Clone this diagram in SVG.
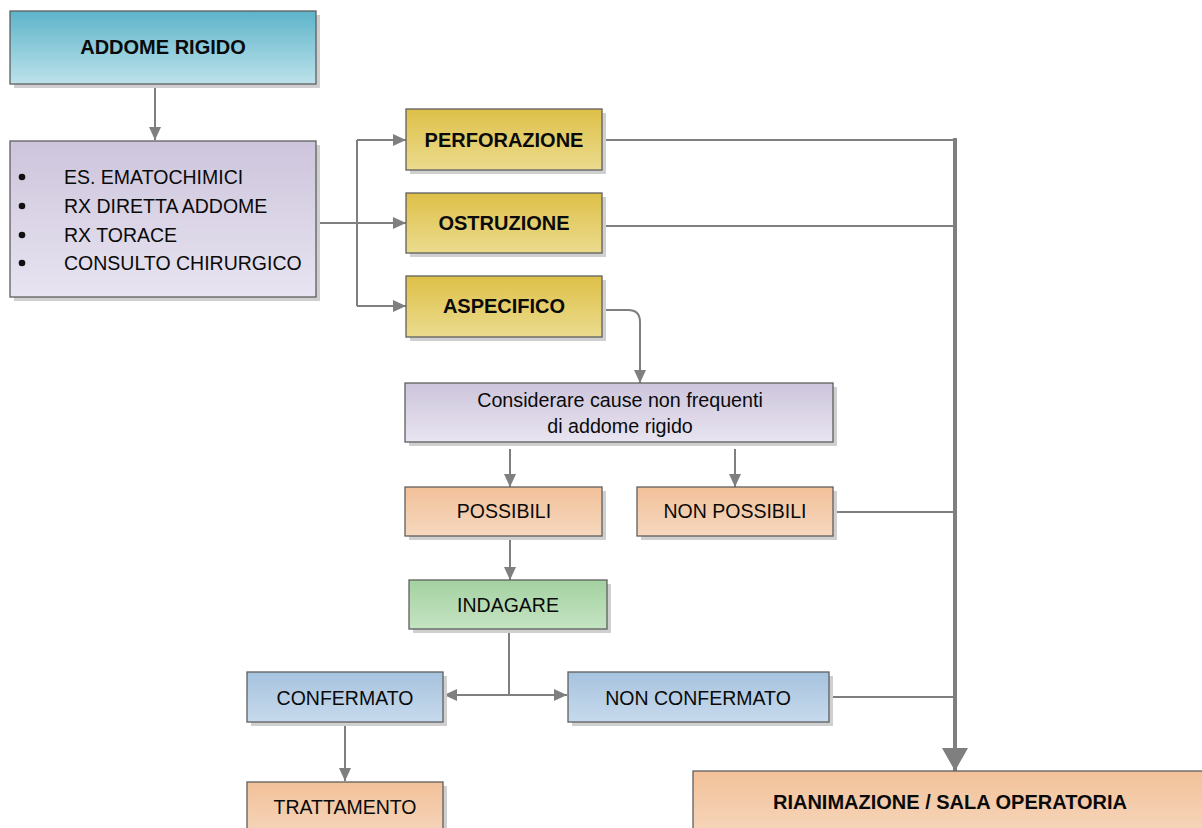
<svg xmlns="http://www.w3.org/2000/svg" width="1202" height="828" viewBox="0 0 1202 828">
  <defs>
    <linearGradient id="gTeal" x1="0" y1="0" x2="0" y2="1">
      <stop offset="0" stop-color="#5db4ca"/><stop offset="1" stop-color="#bde2eb"/>
    </linearGradient>
    <linearGradient id="gLilac" x1="0" y1="0" x2="0" y2="1">
      <stop offset="0" stop-color="#cdc5dc"/><stop offset="1" stop-color="#e8e4f1"/>
    </linearGradient>
    <linearGradient id="gGold" x1="0" y1="0" x2="0" y2="1">
      <stop offset="0" stop-color="#dec048"/><stop offset="1" stop-color="#ebdb8e"/>
    </linearGradient>
    <linearGradient id="gPeach" x1="0" y1="0" x2="0" y2="1">
      <stop offset="0" stop-color="#f2c199"/><stop offset="1" stop-color="#f6d8bf"/>
    </linearGradient>
    <linearGradient id="gGreen" x1="0" y1="0" x2="0" y2="1">
      <stop offset="0" stop-color="#a4d1a1"/><stop offset="1" stop-color="#c5e4c2"/>
    </linearGradient>
    <linearGradient id="gBlue" x1="0" y1="0" x2="0" y2="1">
      <stop offset="0" stop-color="#a6c3de"/><stop offset="1" stop-color="#c7daed"/>
    </linearGradient>
    <marker id="arrow" viewBox="0 0 13 12" refX="13" refY="6" markerWidth="13" markerHeight="12" markerUnits="userSpaceOnUse" orient="auto">
      <path d="M0,0 L13,6 L0,12 Z" fill="#7f7f7f"/>
    </marker>
    <marker id="arrowBig" viewBox="0 0 23 26" refX="23" refY="13" markerWidth="23" markerHeight="26" markerUnits="userSpaceOnUse" orient="auto">
      <path d="M0,0 L23,13 L0,26 Z" fill="#7f7f7f"/>
    </marker>
  </defs>
  <style>
    .shadow { fill: #cfcfcf; }
    .box { stroke: #5f5f5f; stroke-width: 1.3; }
    .t { font-family: "Liberation Sans", Arial, sans-serif; font-size: 19.5px; fill: #0a0a0a; text-anchor: middle; }
    .b { font-weight: bold; font-size: 20px; }
    .l { text-anchor: start; }
    .s { font-size: 19.7px; }
    .conn { fill: none; stroke: #7f7f7f; stroke-width: 2; }
    .trunk { fill: none; stroke: #7f7f7f; stroke-width: 4; }
  </style>

  <rect width="1202" height="828" fill="#ffffff"/>

  <!-- connectors -->
  <g id="connectors">
    <path class="conn" d="M155,86 V140" marker-end="url(#arrow)"/>
    <path class="conn" d="M316,223 H406" marker-end="url(#arrow)"/>
    <path class="conn" d="M357,140 V306"/>
    <path class="conn" d="M357,140 H406" marker-end="url(#arrow)"/>
    <path class="conn" d="M357,306 H406" marker-end="url(#arrow)"/>
    <path class="conn" d="M602,140 H955"/>
    <path class="conn" d="M602,226 H955"/>
    <path class="conn" d="M602,310 H628 Q640,310 640,322 V383" marker-end="url(#arrow)"/>
    <path class="conn" d="M510,449 V487" marker-end="url(#arrow)"/>
    <path class="conn" d="M735,449 V487" marker-end="url(#arrow)"/>
    <path class="conn" d="M510,540 V580" marker-end="url(#arrow)"/>
    <path class="conn" d="M833,512 H955"/>
    <path class="conn" d="M509,629 V695"/>
    <path class="conn" d="M509,695 H444" marker-end="url(#arrow)"/>
    <path class="conn" d="M509,695 H567" marker-end="url(#arrow)"/>
    <path class="conn" d="M829,697 H955"/>
    <path class="conn" d="M345,726 V781" marker-end="url(#arrow)"/>
    <path class="trunk" d="M955,138 V771" marker-end="url(#arrowBig)"/>
  </g>

  <g id="addome-rigido">
    <rect class="shadow" x="14" y="15" width="306" height="73"/>
    <rect class="box" x="10" y="11" width="306" height="73" fill="url(#gTeal)"/>
    <text class="t b" x="163" y="54">ADDOME RIGIDO</text>
  </g>

  <g id="esami">
    <rect class="shadow" x="14" y="145" width="306" height="156"/>
    <rect class="box" x="10" y="141" width="306" height="156" fill="url(#gLilac)"/>
    <circle cx="22" cy="177" r="3.3" fill="#111"/>
    <circle cx="22" cy="206" r="3.3" fill="#111"/>
    <circle cx="22" cy="235" r="3.3" fill="#111"/>
    <circle cx="22" cy="263" r="3.3" fill="#111"/>
    <text class="t l" x="64" y="184">ES. EMATOCHIMICI</text>
    <text class="t l" x="64" y="213">RX DIRETTA ADDOME</text>
    <text class="t l" x="64" y="242">RX TORACE</text>
    <text class="t l" x="64" y="270">CONSULTO CHIRURGICO</text>
  </g>

  <g id="perforazione">
    <rect class="shadow" x="410" y="113" width="196" height="61"/>
    <rect class="box" x="406" y="109" width="196" height="61" fill="url(#gGold)"/>
    <text class="t b" x="504" y="147">PERFORAZIONE</text>
  </g>

  <g id="ostruzione">
    <rect class="shadow" x="410" y="197" width="196" height="60"/>
    <rect class="box" x="406" y="193" width="196" height="60" fill="url(#gGold)"/>
    <text class="t b" x="504" y="230">OSTRUZIONE</text>
  </g>

  <g id="aspecifico">
    <rect class="shadow" x="410" y="280" width="196" height="61"/>
    <rect class="box" x="406" y="276" width="196" height="61" fill="url(#gGold)"/>
    <text class="t b" x="504" y="313">ASPECIFICO</text>
  </g>

  <g id="considerare">
    <rect class="shadow" x="409" y="387" width="428" height="59"/>
    <rect class="box" x="405" y="383" width="428" height="59" fill="url(#gLilac)"/>
    <text class="t s" x="620" y="407">Considerare cause non frequenti</text>
    <text class="t s" x="620" y="433">di addome rigido</text>
  </g>

  <g id="possibili">
    <rect class="shadow" x="409" y="491" width="197" height="49"/>
    <rect class="box" x="405" y="487" width="197" height="49" fill="url(#gPeach)"/>
    <text class="t" x="504" y="518">POSSIBILI</text>
  </g>

  <g id="non-possibili">
    <rect class="shadow" x="641" y="491" width="196" height="49"/>
    <rect class="box" x="637" y="487" width="196" height="49" fill="url(#gPeach)"/>
    <text class="t" x="735" y="518">NON POSSIBILI</text>
  </g>

  <g id="indagare">
    <rect class="shadow" x="413" y="584" width="198" height="49"/>
    <rect class="box" x="409" y="580" width="198" height="49" fill="url(#gGreen)"/>
    <text class="t" x="508" y="612">INDAGARE</text>
  </g>

  <g id="confermato">
    <rect class="shadow" x="251" y="676" width="196" height="50"/>
    <rect class="box" x="247" y="672" width="196" height="50" fill="url(#gBlue)"/>
    <text class="t" x="345" y="705">CONFERMATO</text>
  </g>

  <g id="non-confermato">
    <rect class="shadow" x="572" y="676" width="261" height="50"/>
    <rect class="box" x="568" y="672" width="261" height="50" fill="url(#gBlue)"/>
    <text class="t" x="698" y="705">NON CONFERMATO</text>
  </g>

  <g id="trattamento">
    <rect class="shadow" x="251" y="786" width="196" height="60"/>
    <rect class="box" x="247" y="782" width="196" height="60" fill="url(#gPeach)"/>
    <text class="t" x="345" y="814">TRATTAMENTO</text>
  </g>

  <g id="rianimazione">
    <rect class="box" x="693" y="771" width="520" height="70" fill="url(#gPeach)"/>
    <text class="t b" x="950" y="809">RIANIMAZIONE / SALA OPERATORIA</text>
  </g>
</svg>
